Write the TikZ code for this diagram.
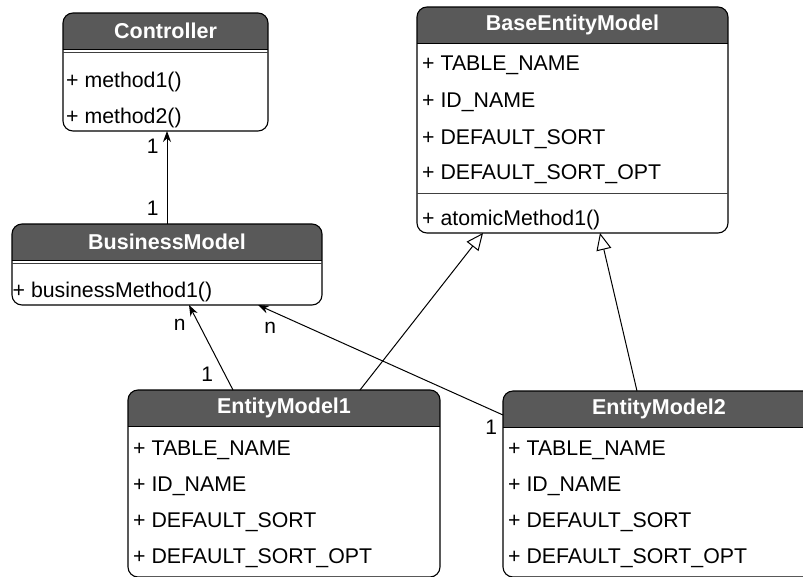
\documentclass[tikz,border=0pt]{standalone}
\usepackage{fontspec}
\setmainfont{Liberation Sans}
\usepackage{tikz}
\usetikzlibrary{arrows.meta,positioning}
\definecolor{hdrgray}{HTML}{595959}

\begin{document}
\begin{tikzpicture}[x=1pt, y=-1pt,
  umlclass/.style={draw, line width=1.1pt, rounded corners=10pt, inner sep=0pt, outer sep=0pt, anchor=north west,
    path picture={\fill[hdrgray, sharp corners] (path picture bounding box.north west) rectangle ([yshift=-36.5pt]path picture bounding box.north east);
      \draw[line width=1.1pt, sharp corners] ([yshift=-36.5pt]path picture bounding box.north west) -- ([yshift=-36.5pt]path picture bounding box.north east);}},
  classtitle/.style={text=white, font=\bfseries\fontsize{21.5}{25}\selectfont, inner sep=0pt},
  member/.style={anchor=west, inner sep=0pt, text height=15.4pt, text depth=0pt, font=\fontsize{21.3}{25}\selectfont},
  sepline/.style={line width=0.9pt, draw=black!75},
  assoc/.style={-{Stealth[length=11pt,width=8pt]}, line width=1pt},
  inherit/.style={-{Triangle[open,length=17pt,width=15pt,fill=white]}, line width=1pt},
  mult/.style={inner sep=1pt, font=\fontsize{21}{25}\selectfont}]
\useasboundingbox (0,0) rectangle (803,576);

% Controller
\node[umlclass, minimum width=205pt, minimum height=118pt] (controller) at (63,13) {};
\node[classtitle] (controller-title) at ([yshift=-18.25pt]controller.north) {Controller};
\draw[sepline] ([yshift=-39.5pt]controller.north west) -- ([yshift=-39.5pt]controller.north east);
\node[member] (controller-m1) at (66,80) {+ method1()};
\node[member] (controller-m2) at (66,116) {+ method2()};

% BusinessModel
\node[umlclass, minimum width=310pt, minimum height=81pt] (business) at (12,224) {};
\node[classtitle] (business-title) at ([yshift=-18.25pt]business.north) {BusinessModel};
\draw[sepline] ([yshift=-39.5pt]business.north west) -- ([yshift=-39.5pt]business.north east);
\node[member] (business-m1) at (12.5,290) {+ businessMethod1()};

% BaseEntityModel
\node[umlclass, minimum width=311pt, minimum height=226pt] (base) at (417,7) {};
\node[classtitle] (base-title) at ([yshift=-18.25pt]base.north) {BaseEntityModel};
\node[member] (base-a1) at (422,63) {+ TABLE\_NAME};
\node[member] (base-a2) at (422,100) {+ ID\_NAME};
\node[member] (base-a3) at (422,137) {+ DEFAULT\_SORT};
\node[member] (base-a4) at (422,172) {+ DEFAULT\_SORT\_OPT};
\draw[sepline] ([yshift=-186pt]base.north west) -- ([yshift=-186pt]base.north east);
\node[member] (base-m1) at (422,218) {+ atomicMethod1()};

% EntityModel1
\node[umlclass, minimum width=312pt, minimum height=187pt] (entity1) at (128,390) {};
\node[classtitle] (entity1-title) at ([yshift=-18.25pt]entity1.north) {EntityModel1};
\node[member] (entity1-a1) at (133,448) {+ TABLE\_NAME};
\node[member] (entity1-a2) at (133,484) {+ ID\_NAME};
\node[member] (entity1-a3) at (133,520) {+ DEFAULT\_SORT};
\node[member] (entity1-a4) at (133,556) {+ DEFAULT\_SORT\_OPT};

% EntityModel2
\node[umlclass, minimum width=312pt, minimum height=186pt] (entity2) at (503,391) {};
\node[classtitle] (entity2-title) at ([yshift=-18.25pt]entity2.north) {EntityModel2};
\node[member] (entity2-a1) at (508,448) {+ TABLE\_NAME};
\node[member] (entity2-a2) at (508,484) {+ ID\_NAME};
\node[member] (entity2-a3) at (508,520) {+ DEFAULT\_SORT};
\node[member] (entity2-a4) at (508,556) {+ DEFAULT\_SORT\_OPT};

% associations
\draw[assoc] (business.north) -- node[mult, pos=0.17, left=7pt] {1} node[mult, pos=0.84, left=7pt] {1} (business.north |- controller.south);
\draw[assoc] ([xshift=-51pt]entity1.north) -- node[mult, pos=0.19, left=10pt] {1} node[mult, pos=0.77, left=12pt] {n} ([xshift=22pt]business.south);
\draw[assoc] ([yshift=-24pt]entity2.north west) -- node[mult, pos=0, below left=4pt and 4.5pt] {1} node[mult, pos=0.95, below=10pt] {n} ([xshift=91pt]business.south);

% generalizations
\draw[inherit] ([xshift=76pt]entity1.north) -- ([xshift=-89.5pt]base.south);
\draw[inherit] ([xshift=-22pt]entity2.north) -- ([xshift=27.5pt]base.south);
\end{tikzpicture}
\end{document}
